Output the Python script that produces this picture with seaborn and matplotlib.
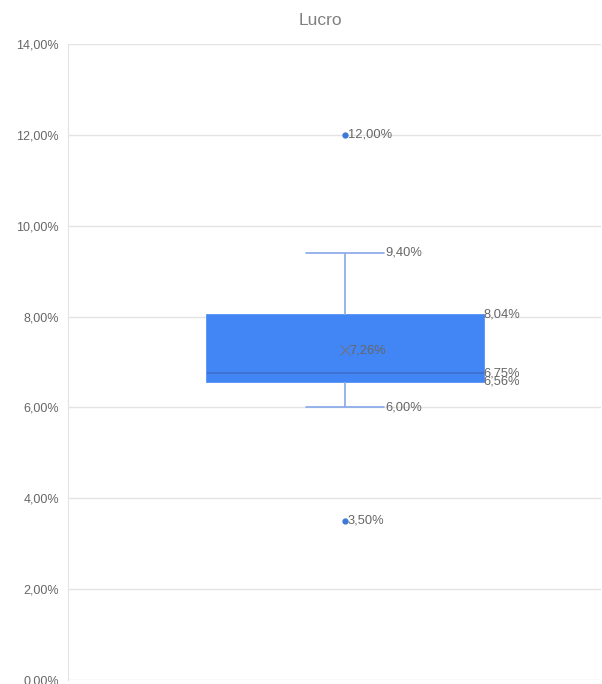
import numpy as np
import pandas as pd
import matplotlib
matplotlib.use('Agg')
import matplotlib.pyplot as plt
from matplotlib.ticker import FuncFormatter, MultipleLocator
import seaborn as sns

# valores de lucro (fração)
lucro = [0.035, 0.060, 0.062, 0.0656, 0.066, 0.067, 0.0675,
         0.069, 0.072, 0.0804, 0.0853, 0.094, 0.120]
serie = 'Lucro'

df = pd.DataFrame({serie: lucro})

def pct(v):
    return '{:.2f}%'.format(v * 100).replace('.', ',')

sns.set_style('white')
plt.rcParams['font.family'] = ['Liberation Sans', 'DejaVu Sans']

fig = plt.figure(figsize=(6.02, 6.84), dpi=100)
ax = fig.add_axes([0.113, 0.006, 0.885, 0.9297])

box_w = 0.52
blue = '#4285f4'
sns.boxplot(data=df, y=serie, ax=ax, width=box_w, color=blue, saturation=1,
            linecolor=blue, linewidth=1.2, showmeans=True,
            boxprops=dict(facecolor=blue, edgecolor=blue),
            medianprops=dict(color='#3d6fc9', linewidth=1.2),
            whiskerprops=dict(color='#86a9ea', linewidth=1.2),
            capprops=dict(color='#86a9ea', linewidth=1.2),
            meanprops=dict(marker='x', markeredgecolor='#6b7590', markersize=7, markeredgewidth=0.9),
            flierprops=dict(marker='o', markerfacecolor='#3c78d8', markeredgecolor='#3c78d8', markersize=3.5))

# encurtar as hastes das extremidades
for ln in ax.lines:
    xd = np.asarray(ln.get_xdata(), dtype=float)
    if len(xd) == 2 and abs((xd.max() - xd.min()) - box_w * 0.5) < 1e-6:
        ln.set_xdata([-0.074, 0.074])

ax.set_xlim(-0.52, 0.48)
ax.set_ylim(0, 0.14)
ax.yaxis.set_major_locator(MultipleLocator(0.02))
ax.yaxis.set_major_formatter(FuncFormatter(lambda v, p: pct(v)))
ax.set_xticks([])
ax.set_xlabel('')
ax.set_ylabel('')
ax.grid(axis='y', color='#e3e3e3', linewidth=1)
ax.set_axisbelow(True)
for s in ['top', 'right', 'bottom']:
    ax.spines[s].set_visible(False)
ax.spines['left'].set_color('#e3e3e3')
ax.tick_params(axis='y', length=0, pad=6.5, labelsize=9, labelcolor='#666666')

ax.set_title('Lucro', fontsize=12.5, color='#808080', pad=14, x=0.473)

# rótulos dos valores
vals = np.array(lucro)
q1, med, q3 = np.percentile(vals, [25, 50, 75])
iqr = q3 - q1
low = vals[vals >= q1 - 1.5 * iqr].min()
high = vals[vals <= q3 + 1.5 * iqr].max()
fora = vals[(vals < low) | (vals > high)]
media = vals.mean()

tk = dict(fontsize=9.3, color='#666666', va='center', ha='left')
for v in [q1, med, q3]:
    ax.text(box_w / 2, v, pct(v), **tk)
for v in [low, high]:
    ax.text(0.076, v, pct(v), **tk)
for v in fora:
    ax.text(0.005, v, pct(v), **tk)
ax.text(0.008, media, pct(media), **tk)

fig.savefig('out.png', dpi=100)
